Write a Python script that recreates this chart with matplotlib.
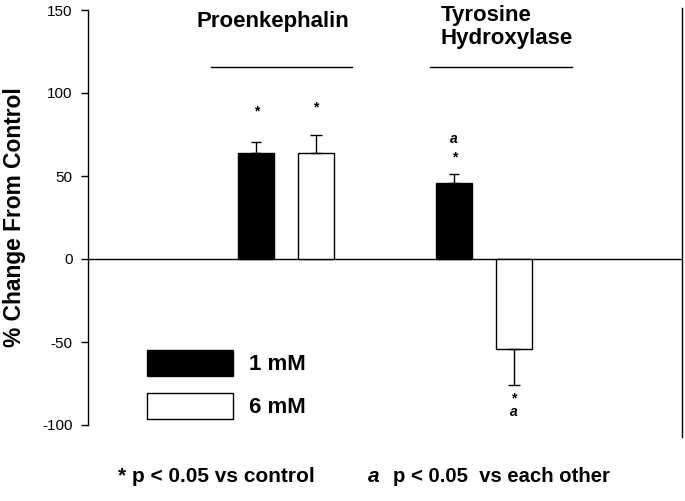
import matplotlib
matplotlib.use("Agg")
import matplotlib.pyplot as plt
from matplotlib.patches import Patch

plt.rcParams['font.family'] = ['Liberation Sans', 'DejaVu Sans']
plt.rcParams['axes.unicode_minus'] = False

# Data (% change from control)
genes = ["Proenkephalin", "Tyrosine\nHydroxylase"]
doses = ["1 mM", "6 mM"]
values_1mm = [64, 46]
errors_1mm = [6.5, 5]
values_6mm = [64, -54]
errors_6mm = [11, 22]
# significance marks: (symbol, height on the y scale where it is written)
marks_1mm = [[("*", 89)], [("*", 61), ("a", 72)]]
marks_6mm = [[("*", 91)], [("*", -84), ("a", -92)]]

yticks = [-100, -50, 0, 50, 100, 150]

fig = plt.figure(figsize=(6.85, 5.01), dpi=100)
ax = fig.add_axes([88/685, 76/501, 594/685, 415/501])

x = [0, 1]
off = 0.15
w = 0.18

def one_sided(vals, errs):
    # error bar only away from zero
    lo = [e if v < 0 else 0 for v, e in zip(vals, errs)]
    hi = [e if v >= 0 else 0 for v, e in zip(vals, errs)]
    return [lo, hi]

x1 = [i - off for i in x]
x6 = [i + off for i in x]
ax.bar(x1, values_1mm, w, color="black", edgecolor="black", linewidth=1,
       yerr=one_sided(values_1mm, errors_1mm),
       error_kw=dict(ecolor="black", elinewidth=1, capsize=3.5, capthick=1), zorder=3)
ax.bar(x6, values_6mm, w, color="white", edgecolor="black", linewidth=1,
       yerr=one_sided(values_6mm, errors_6mm),
       error_kw=dict(ecolor="black", elinewidth=1, capsize=4, capthick=1), zorder=3)

# significance marks
for xs, marks in [(x1, marks_1mm), (x6, marks_6mm)]:
    for xi, mk in zip(xs, marks):
        for m, y in mk:
            ax.text(xi, y, m, ha="center", va="center", fontsize=10,
                    fontweight="bold", style="italic" if m == "a" else "normal")

ax.axhline(0, color="black", linewidth=1, zorder=2)
ax.axvline(2, ymin=-0.03, ymax=1.005, color="black", linewidth=1, clip_on=False)

# group titles and underline bars
ax.text(-0.065, 143, genes[0], ha="center", va="center", fontsize=16, fontweight="bold")
ax.text(0.78, 140, genes[1], ha="left", va="center", fontsize=16, fontweight="bold",
        linespacing=1.12)
ax.plot([-0.38, 0.335], [115.5, 115.5], color="black", linewidth=1)
ax.plot([0.728, 1.443], [115.5, 115.5], color="black", linewidth=1)

ax.set_xlim(-1, 2)
ax.set_ylim(-100, 150)
ax.set_yticks(yticks)
ax.set_xticks([])
ax.tick_params(axis="y", direction="out", length=5, width=1, pad=6, labelsize=11)
for s in ["top", "right", "bottom"]:
    ax.spines[s].set_visible(False)
ax.spines["left"].set_linewidth(1)

ax.set_ylabel("% Change From Control", fontsize=16.4, fontweight="bold")
ax.yaxis.set_label_coords(-0.104, 0.5)

handles = [Patch(facecolor="black", edgecolor="black", label=doses[0]),
           Patch(facecolor="white", edgecolor="black", label=doses[1])]
leg = ax.legend(handles=handles, loc="upper left", bbox_to_anchor=(0.099, 0.181),
                frameon=False, handlelength=3.9, handleheight=1.45,
                handletextpad=0.72, labelspacing=0.75, borderpad=0, borderaxespad=0,
                prop=dict(weight="bold", size=16))

fig.text(118/685, 24/501, "* p < 0.05 vs control", ha="left", va="center",
         fontsize=15, fontweight="bold")
fig.text(368/685, 24/501, "a", ha="left", va="center", fontsize=15,
         fontweight="bold", style="italic")
fig.text(393/685, 24/501, "p < 0.05  vs each other", ha="left", va="center",
         fontsize=14.6, fontweight="bold")

fig.savefig("out.png", dpi=100)
